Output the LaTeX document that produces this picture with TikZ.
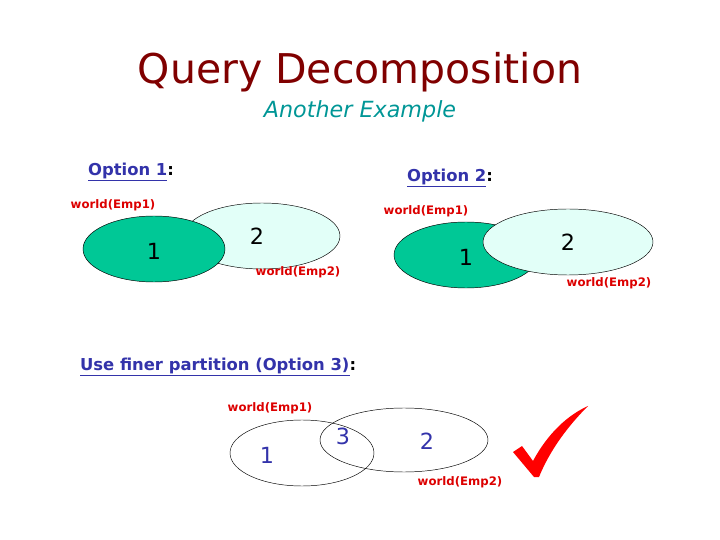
\documentclass[tikz,border=0pt]{standalone}
\usepackage{fontspec}
\setmainfont{DejaVu Sans}
\definecolor{titlered}{RGB}{128,0,0}
\definecolor{subteal}{RGB}{0,150,150}
\definecolor{optblue}{RGB}{51,51,170}
\definecolor{setgreen}{RGB}{0,200,150}
\definecolor{setcyan}{RGB}{226,255,248}
\definecolor{lblred}{RGB}{220,0,0}
\tikzset{
  worldlbl/.style={text=lblred, font=\fontsize{10}{12}\selectfont\bfseries},
  setnum/.style={font=\fontsize{19}{22}\selectfont},
  optlbl/.style={font=\fontsize{14}{17}\selectfont\bfseries, anchor=west}
}
\begin{document}
\begin{tikzpicture}[x=0.03cm, y=-0.03cm]
\useasboundingbox (0,0) rectangle (720,540);

\node (title) at (360,72) {\color{titlered}\fontsize{35}{40}\selectfont Query Decomposition};
\node (sub) at (360,111) {\color{subteal}\fontsize{19}{22}\selectfont\itshape Another Example};

% option 1
\node [optlbl] (o1) at (84,172) {\color{optblue}\underline{Option 1}\color{black}:};
\filldraw [fill=setcyan] (262,236) ellipse (78 and 33);
\filldraw [fill=setgreen] (154,249) ellipse (71 and 33);
\node [setnum] (a1) at (154,251) {1};
\node [setnum] (a2) at (257,236) {2};
\node [worldlbl] (ae1) at (113,205) {world(Emp1)};
\node [worldlbl] (ae2) at (298,272) {world(Emp2)};

% option 2
\node [optlbl] (o2) at (403,178) {\color{optblue}\underline{Option 2}\color{black}:};
\filldraw [fill=setgreen] (466,255) ellipse (72 and 33);
\filldraw [fill=setcyan] (568,242) ellipse (85 and 33);
\node [setnum] (b1) at (466,257) {1};
\node [setnum] (b2) at (568,242) {2};
\node [worldlbl] (be1) at (426,211) {world(Emp1)};
\node [worldlbl] (be2) at (609,283) {world(Emp2)};

% option 3
\node [optlbl] (o3) at (76,367) {\color{optblue}\underline{Use finer partition (Option 3)}\color{black}:};
\begin{scope}[thin]
\draw (302,453) ellipse (72 and 33);
\draw (404,440) ellipse (84 and 32);
\end{scope}
\node [setnum, text=optblue] (c1) at (267,455) {1};
\node [setnum, text=optblue] (c3) at (343,436) {3};
\node [setnum, text=optblue] (c2) at (427,441) {2};
\node [worldlbl] (ce1) at (270,408) {world(Emp1)};
\node [worldlbl] (ce2) at (460,482) {world(Emp2)};

% tick
\fill [red] (513,452) -- (522,446) -- (533,461) .. controls (548,433) and (568,415) .. (588,406)
  .. controls (568,426) and (550,450) .. (539,477) -- (534,477) -- cycle;

\end{tikzpicture}
\end{document}
